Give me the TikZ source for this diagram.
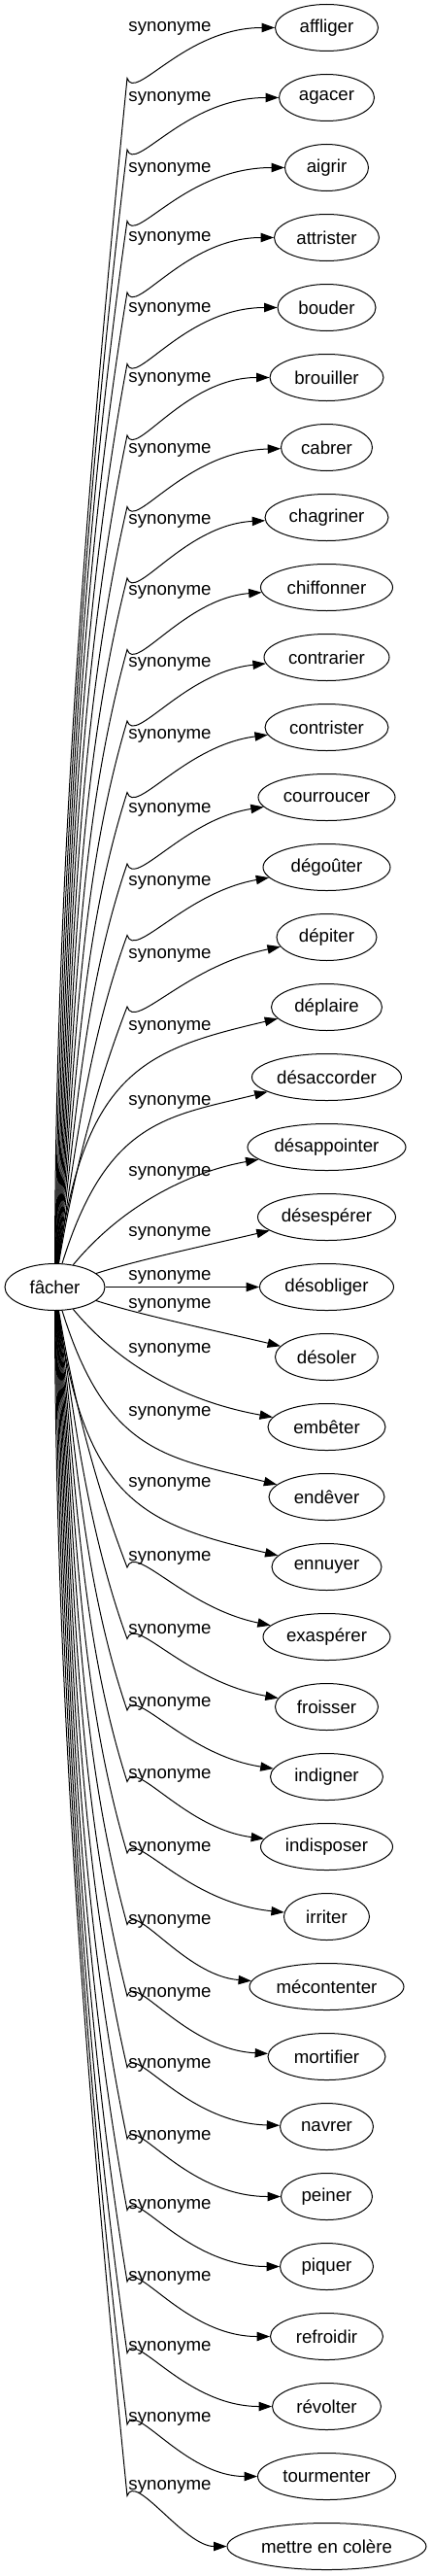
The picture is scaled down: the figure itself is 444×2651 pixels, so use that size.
\documentclass[tikz,border=0pt]{standalone}
\usepackage{fontspec}
\setmainfont{Liberation Sans}
\usetikzlibrary{shapes.geometric,arrows.meta}
\begin{document}
\begin{tikzpicture}[x=0.75pt,y=-0.75pt,
  tgt/.style={draw, ellipse, line width=0.75pt, inner sep=0pt, minimum height=36pt, font=\fontsize{14}{16}\selectfont},
  lbl/.style={inner sep=0pt, font=\fontsize{14}{16}\selectfont},
  conn/.style={draw, line width=0.75pt, -{Triangle[length=10pt,width=7pt]}}]
\useasboundingbox (0,0) rectangle (444,2651);
\node[tgt, minimum width=103*0.75pt] (f) at (56.5,1324.5) {fâcher};
\foreach \i/\w/\t in {0/106/affliger, 1/98/agacer, 2/86/aigrir, 3/108/attrister, 4/101/bouder, 5/117/brouiller, 6/94/cabrer, 7/127/chagriner, 8/136/chiffonner, 9/129/contrarier, 10/127/contrister, 11/141/courroucer, 12/131/dégoûter, 13/103/dépiter, 14/114/déplaire, 15/154/désaccorder, 16/163/désappointer, 17/142/désespérer, 18/138/désobliger, 19/106/désoler, 20/121/embêter, 21/119/endêver, 22/113/ennuyer, 23/131/exaspérer, 24/106/froisser, 25/116/indigner, 26/136/indisposer, 27/88/irriter, 28/159/mécontenter, 29/121/mortifier, 30/96/navrer, 31/94/peiner, 32/96/piquer, 33/116/refroidir, 34/112/révolter, 35/142/tourmenter, 36/205/mettre en colère}{
  \node[tgt, minimum width=\w*0.75pt] (t\i) at (336.5,{28.5+72*\i}) {\t};
}
\foreach \i/\y in {0/29, 1/101, 2/174, 3/245, 4/318, 5/390, 6/463, 7/536, 8/609, 9/683, 10/757, 11/833, 12/908, 13/983, 14/1057, 15/1134, 16/1207, 17/1269, 18/1314, 19/1343, 20/1389, 21/1454, 22/1527, 23/1603, 24/1678, 25/1753, 26/1827, 27/1902, 28/1977, 29/2052, 30/2125, 31/2199, 32/2270, 33/2344, 34/2416, 35/2489, 36/2559}{
  \node[lbl] (l\i) at (175,\y) {synonyme};
}
% far edges: two segments with a knee
\foreach \n in {5,...,18}{
  \foreach \sgn in {-1,1}{
    \pgfmathtruncatemacro\idx{18+\sgn*\n}
    \pgfmathsetmacro\vt{72*\n}
    \pgfmathsetmacro\kk{min(73,52+1.5*(18-\n))}
    \pgfmathsetmacro\vK{\vt-\kk}
    \pgfmathsetmacro\HH{\vK-23}
    \pgfmathsetmacro\LL{0.33*\HH}
    \pgfmathsetmacro\ta{0.011*(18-\n)}
    \pgfmathsetmacro\sg{0.1+0.022*(18-\n)}
    \pgfmathsetmacro\qq{2.5*max(0,1.5*(13-\n))}
    \pgfmathsetmacro\xa{57+0.4*(18-\n)+\ta*\LL}
    \pgfmathsetmacro\ya{1324.5+\sgn*(23+\LL)}
    \pgfmathsetmacro\xb{131-\sg*\LL}
    \pgfmathsetmacro\yb{1324.5+\sgn*(\vK-\LL)}
    \pgfmathsetmacro\yK{1324.5+\sgn*\vK}
    \pgfmathsetmacro\yc{1324.5+\sgn*(\vK-25)}
    \pgfmathsetmacro\yd{1324.5+\sgn*(\vt-\qq)}
    \draw[conn] (f) .. controls (\xa,\ya) and (\xb,\yb) .. (131,\yK) .. controls (139,\yc) and (190,\yd) .. (t\idx);
  }
}
% near edges
\draw[conn] (f) .. controls (87,1102) and (150,1080) .. (t14);
\draw[conn] (f) .. controls (87,1547) and (150,1569) .. (t22);
\draw[conn] (f) .. controls (110,1152) and (173,1149) .. (t15);
\draw[conn] (f) .. controls (110,1497) and (173,1500) .. (t21);
\draw[conn] (f) .. controls (123,1244) and (190,1207) .. (t16);
\draw[conn] (f) .. controls (123,1405) and (190,1442) .. (t20);
\draw[conn] (f) .. controls (140,1297) and (220,1280) .. (t17);
\draw[conn] (f) .. controls (140,1352) and (220,1369) .. (t19);
\draw[conn] (f) -- (t18);
\end{tikzpicture}
\end{document}
